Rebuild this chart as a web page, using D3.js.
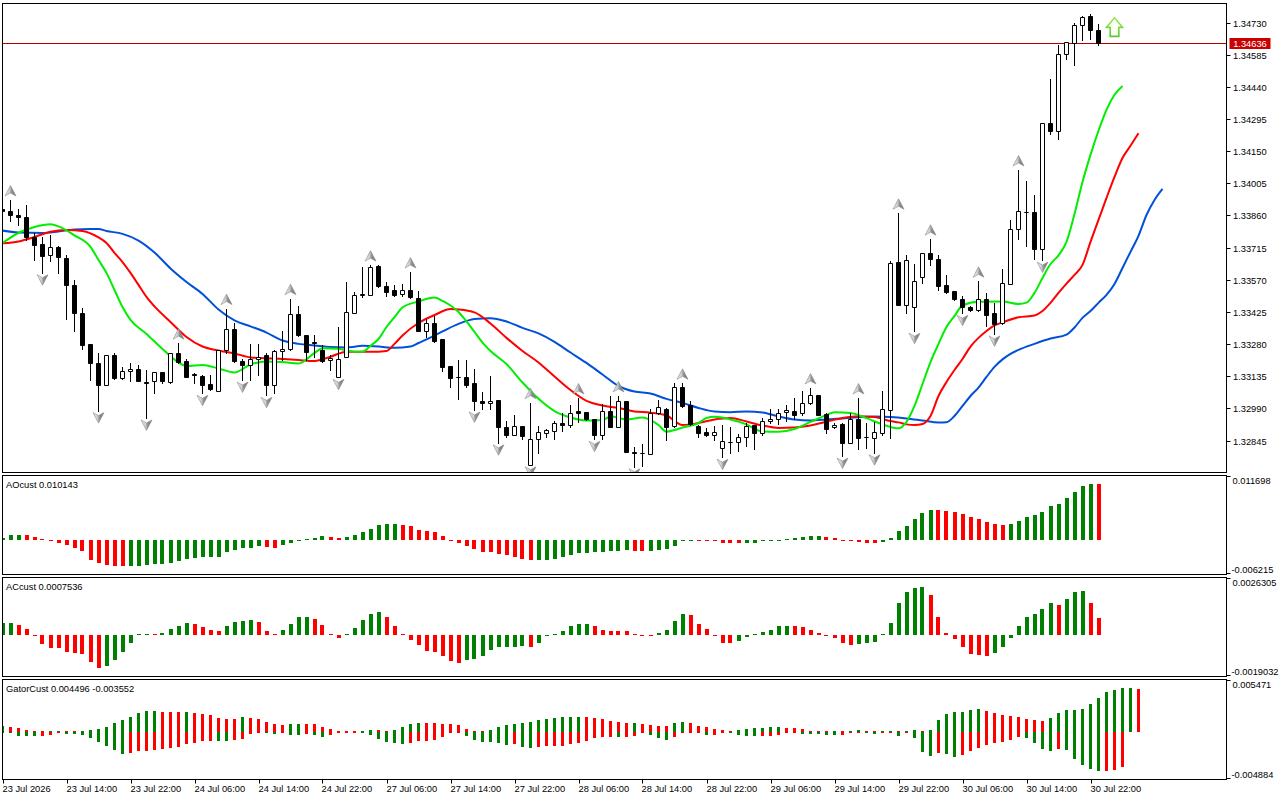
<!DOCTYPE html>
<html><head><meta charset="utf-8">
<script src="https://cdn.jsdelivr.net/npm/d3@7"></script>
<style>
html,body{margin:0;padding:0;background:#fff;}
svg{display:block;}
text{font-family:"Liberation Sans",Arial,sans-serif;font-size:9.3px;fill:#000;}
</style></head>
<body><svg id="chart" width="1280" height="800"></svg>
<script>
// ---------------- DATA ----------------
const opens = [1.33888,1.33879,1.33864,1.33852,1.33762,1.33732,1.33681,1.33717,1.33668,1.33548,
1.33419,1.33281,1.33194,1.33097,1.33232,1.33127,1.33157,1.33167,1.33107,1.33112,
1.33154,1.33109,1.33239,1.33203,1.33143,1.33136,1.33100,1.33070,1.33254,1.33347,
1.33205,1.33185,1.33212,1.33230,1.33094,1.33250,1.33259,1.33416,1.33320,1.33290,
1.33254,1.33208,1.33133,1.33221,1.33422,1.33500,1.33503,1.33632,1.33542,1.33524,
1.33506,1.33524,1.33488,1.33338,1.33377,1.33302,1.33181,1.33132,1.33133,1.33103,
1.33022,1.33013,1.33028,1.32905,1.32872,1.32911,1.32736,1.32851,1.32878,1.32890,
1.32926,1.32914,1.32980,1.32974,1.32941,1.32869,1.32977,1.32908,1.33022,1.32794,
1.32789,1.32785,1.32968,1.32989,1.32911,1.33085,1.33004,1.32911,1.32884,1.32869,
1.32812,1.32839,1.32839,1.32860,1.32914,1.32878,1.32935,1.32941,1.32974,1.32980,
1.32968,1.33013,1.33049,1.32965,1.32905,1.32920,1.32833,1.32941,1.32861,1.32857,
1.32878,1.32983,1.33650,1.33458,1.33449,1.33584,1.33692,1.33663,1.33548,1.33518,
1.33482,1.33446,1.33434,1.33485,1.33419,1.33374,1.33551,1.33801,1.33877,1.33876,
1.33708,1.34276,1.34243,1.34589,1.34639,1.34718,1.34760,1.34697];
const highs = [1.33898,1.33930,1.33888,1.33909,1.33780,1.33762,1.33774,1.33723,1.33681,1.33569,
1.33443,1.33281,1.33239,1.33232,1.33239,1.33178,1.33194,1.33187,1.33163,1.33154,
1.33154,1.33241,1.33284,1.33214,1.33148,1.33139,1.33142,1.33254,1.33440,1.33374,
1.33214,1.33281,1.33281,1.33241,1.33254,1.33341,1.33485,1.33452,1.33320,1.33323,
1.33276,1.33230,1.33356,1.33560,1.33515,1.33627,1.33636,1.33636,1.33560,1.33545,
1.33551,1.33605,1.33518,1.33395,1.33407,1.33302,1.33181,1.33208,1.33208,1.33169,
1.33064,1.33136,1.33028,1.32932,1.32962,1.32911,1.33016,1.32911,1.32899,1.32932,
1.32971,1.33007,1.33037,1.32974,1.32941,1.33010,1.33046,1.33046,1.33025,1.32817,
1.32830,1.32986,1.33028,1.32992,1.33103,1.33103,1.33022,1.32914,1.32902,1.32911,
1.32914,1.32908,1.32875,1.32926,1.32917,1.32947,1.32986,1.32989,1.33007,1.33037,
1.33070,1.33082,1.33052,1.32968,1.32926,1.32926,1.32968,1.33037,1.32923,1.32929,
1.33067,1.33656,1.33870,1.33681,1.33641,1.33692,1.33753,1.33681,1.33590,1.33521,
1.33497,1.33452,1.33563,1.33509,1.33464,1.33618,1.33840,1.34065,1.34014,1.33951,
1.34276,1.34474,1.34628,1.34643,1.34727,1.34760,1.34769,1.34724];
const lows = [1.33871,1.33837,1.33816,1.33750,1.33659,1.33602,1.33654,1.33602,1.33395,1.33341,
1.33259,1.33118,1.32980,1.33094,1.33124,1.33124,1.33112,1.33112,1.32947,1.33061,
1.33103,1.33106,1.33196,1.33133,1.33103,1.33058,1.33073,1.33070,1.33241,1.33199,
1.33118,1.33118,1.33139,1.33049,1.33058,1.33208,1.33254,1.33317,1.33208,1.33223,
1.33199,1.33163,1.33130,1.33221,1.33419,1.33494,1.33503,1.33539,1.33497,1.33497,
1.33497,1.33488,1.33338,1.33311,1.33290,1.33160,1.33088,1.33034,1.33088,1.32983,
1.32986,1.32989,1.32835,1.32860,1.32869,1.32851,1.32736,1.32790,1.32860,1.32851,
1.32890,1.32908,1.32929,1.32938,1.32851,1.32851,1.32905,1.32905,1.32794,1.32727,
1.32730,1.32785,1.32965,1.32848,1.32908,1.32998,1.32917,1.32863,1.32866,1.32848,
1.32770,1.32788,1.32799,1.32821,1.32808,1.32872,1.32926,1.32920,1.32932,1.32941,
1.32959,1.33010,1.32959,1.32878,1.32902,1.32775,1.32833,1.32808,1.32812,1.32790,
1.32869,1.32857,1.33455,1.33422,1.33338,1.33557,1.33636,1.33524,1.33509,1.33479,
1.33419,1.33431,1.33428,1.33362,1.33326,1.33371,1.33551,1.33756,1.33723,1.33665,
1.33659,1.34228,1.34207,1.34567,1.34540,1.34652,1.34655,1.34628];
const closes = [1.33879,1.33861,1.33855,1.33762,1.33728,1.33677,1.33717,1.33672,1.33548,1.33419,
1.33277,1.33194,1.33097,1.33230,1.33127,1.33157,1.33167,1.33115,1.33105,1.33154,
1.33115,1.33239,1.33199,1.33133,1.33141,1.33097,1.33079,1.33254,1.33347,1.33205,
1.33185,1.33214,1.33223,1.33094,1.33250,1.33259,1.33416,1.33320,1.33245,1.33284,
1.33205,1.33217,1.33214,1.33425,1.33500,1.33506,1.33629,1.33542,1.33515,1.33503,
1.33524,1.33491,1.33341,1.33374,1.33295,1.33178,1.33127,1.33130,1.33097,1.33025,
1.33013,1.33022,1.32905,1.32872,1.32911,1.32866,1.32851,1.32884,1.32893,1.32923,
1.32914,1.32971,1.32971,1.32941,1.32869,1.32977,1.32908,1.33022,1.32794,1.32791,
1.32788,1.32968,1.32995,1.32905,1.33085,1.33001,1.32920,1.32881,1.32869,1.32884,
1.32842,1.32837,1.32860,1.32911,1.32878,1.32932,1.32944,1.32968,1.32983,1.32962,
1.33013,1.33049,1.32962,1.32899,1.32917,1.32833,1.32941,1.32857,1.32859,1.32884,
1.32989,1.33645,1.33455,1.33659,1.33563,1.33690,1.33663,1.33542,1.33515,1.33482,
1.33446,1.33434,1.33485,1.33413,1.33371,1.33554,1.33801,1.33879,1.33876,1.33708,
1.34276,1.34243,1.34589,1.34643,1.34721,1.34754,1.34697,1.34636];

// Alligator lines: [bar index, price]
const jaw = [[0,1.33792],[2,1.33783],[5,1.33781],[7,1.33788],[9,1.33797],[11,1.33799],[12,1.33799],[13,1.33790],[15,1.33777],[17,1.33747],[19,1.33693],[21,1.33621],[23,1.33560],[25,1.33506],[27,1.33436],[29,1.33387],[31,1.33360],[33,1.33332],[35,1.33296],[37,1.33281],[39,1.33274],[41,1.33267],[43,1.33265],[45,1.33272],[47,1.33269],[49,1.33263],[51,1.33269],[52,1.33285],[53,1.33301],[55,1.33337],[57,1.33371],[59,1.33393],[61,1.33397],[63,1.33382],[65,1.33353],[67,1.33328],[69,1.33290],[71,1.33242],[73,1.33195],[75,1.33143],[77,1.33091],[79,1.33066],[81,1.33057],[83,1.33033],[85,1.33015],[87,1.32992],[89,1.32976],[91,1.32973],[93,1.32976],[95,1.32972],[97,1.32954],[99,1.32940],[101,1.32936],[103,1.32940],[105,1.32945],[107,1.32950],[109,1.32953],[111,1.32951],[113,1.32945],[115,1.32936],[117,1.32927],[118,1.32928],[119,1.32956],[120,1.33001],[121,1.33046],[122,1.33084],[123,1.33132],[124,1.33177],[125,1.33211],[126,1.33236],[127,1.33254],[129,1.33281],[131,1.33305],[133,1.33323],[134,1.33355],[135,1.33398],[136,1.33429],[137,1.33466],[138,1.33502],[139,1.33551],[140,1.33623],[141,1.33696],[142,1.33768],[143,1.33862],[144,1.33930],[145,1.33980]];
const teeth = [[0,1.33734],[2,1.33743],[4,1.33763],[6,1.33787],[8,1.33795],[10,1.33790],[12,1.33761],[13,1.33736],[14,1.33691],[15,1.33650],[16,1.33601],[17,1.33547],[18,1.33493],[19,1.33450],[21,1.33380],[23,1.33312],[25,1.33269],[27,1.33251],[29,1.33238],[31,1.33220],[34,1.33215],[37,1.33208],[39,1.33204],[41,1.33223],[43,1.33246],[46,1.33245],[48,1.33249],[49,1.33281],[50,1.33319],[52,1.33375],[54,1.33411],[56,1.33438],[57,1.33436],[59,1.33423],[61,1.33373],[63,1.33308],[65,1.33249],[67,1.33197],[69,1.33134],[71,1.33073],[73,1.33024],[75,1.33003],[77,1.32992],[79,1.32976],[81,1.32971],[83,1.32958],[85,1.32915],[87,1.32924],[89,1.32940],[91,1.32947],[93,1.32931],[95,1.32913],[97,1.32902],[99,1.32904],[101,1.32913],[103,1.32930],[105,1.32947],[107,1.32955],[109,1.32951],[111,1.32933],[112,1.32927],[113,1.32918],[114,1.32915],[115,1.32920],[116,1.32956],[117,1.33046],[118,1.33109],[119,1.33163],[120,1.33213],[121,1.33269],[122,1.33308],[123,1.33339],[124,1.33364],[125,1.33378],[127,1.33401],[129,1.33409],[130,1.33429],[131,1.33466],[132,1.33511],[133,1.33553],[134,1.33592],[135,1.33637],[136,1.33741],[137,1.33840],[138,1.33939],[139,1.34034],[140,1.34119],[141,1.34174],[142,1.34231]];
const lips = [[0,1.33736],[2,1.33781],[4,1.33808],[6,1.33820],[7,1.33811],[9,1.33770],[11,1.33718],[12,1.33659],[13,1.33601],[14,1.33524],[15,1.33447],[16,1.33389],[18,1.33326],[20,1.33258],[22,1.33197],[23,1.33181],[25,1.33186],[27,1.33170],[29,1.33152],[31,1.33188],[33,1.33202],[35,1.33199],[37,1.33193],[39,1.33240],[40,1.33261],[42,1.33259],[44,1.33246],[45,1.33246],[46,1.33272],[47,1.33303],[48,1.33357],[49,1.33402],[50,1.33445],[52,1.33472],[54,1.33490],[55,1.33475],[56,1.33454],[57,1.33425],[58,1.33382],[59,1.33335],[60,1.33287],[61,1.33249],[63,1.33190],[65,1.33107],[67,1.33033],[69,1.32978],[71,1.32949],[73,1.32935],[75,1.32938],[76,1.32953],[78,1.32940],[80,1.32949],[82,1.32915],[83,1.32885],[84,1.32893],[85,1.32904],[87,1.32924],[88,1.32947],[89,1.32952],[91,1.32940],[93,1.32918],[95,1.32886],[97,1.32885],[99,1.32897],[101,1.32929],[103,1.32960],[104,1.32973],[106,1.32969],[108,1.32946],[110,1.32918],[112,1.32900],[113,1.32929],[114,1.33001],[115,1.33100],[116,1.33199],[117,1.33281],[118,1.33357],[119,1.33407],[120,1.33454],[122,1.33471],[125,1.33472],[127,1.33461],[128,1.33467],[129,1.33511],[130,1.33578],[131,1.33641],[132,1.33680],[133,1.33741],[134,1.33867],[135,1.34011],[136,1.34133],[137,1.34242],[138,1.34336],[139,1.34404],[140,1.34444]];

const fractalUp = [1,22,28,36,46,51,66,72,77,85,101,107,112,116,122,127];
const fractalDown = [5,12,18,25,30,33,42,59,62,66,74,79,90,105,109,114,120,124,130];
const signalBars = [139];
const signalPrices = [1.34751];

const ao = [0.0003,0.0009,0.00092,0.00085,0.00053,0.00005,-0.0001,-0.0005,-0.0009,-0.0014,
-0.0020,-0.0036,-0.0041,-0.0045,-0.0047,-0.00475,-0.0047,-0.0046,-0.0045,-0.0044,
-0.0043,-0.0042,-0.0038,-0.0034,-0.0032,-0.0031,-0.00305,-0.0030,-0.0022,-0.0018,
-0.0015,-0.0014,-0.0011,-0.0013,-0.00135,-0.0009,-0.0005,-0.0001,0.00002,0.0003,
0.0007,0.0005,0.0004,0.0006,0.0010,0.0015,0.0021,0.0028,0.0029,0.0030,
0.0027,0.0025,0.0019,0.0016,0.0014,0.0007,-0.0001,-0.0006,-0.0010,-0.0016,
-0.0021,-0.0022,-0.0025,-0.0027,-0.0031,-0.0034,-0.0036,-0.00358,-0.00355,-0.0035,
-0.0031,-0.0027,-0.0024,-0.0023,-0.0022,-0.0021,-0.00205,-0.0019,-0.00185,-0.0019,
-0.0020,-0.0019,-0.0018,-0.0016,-0.0011,-0.0002,-0.0001,-0.00012,-0.00015,-0.0002,
-0.0005,-0.00055,-0.0006,-0.00058,-0.0005,-0.0001,-0.00008,-0.00005,0.00000,0.0003,
0.0005,0.0007,0.00075,0.0005,0.0003,-0.00005,-0.0001,-0.0004,-0.00045,-0.0005,
-0.0003,0.0003,0.0016,0.0026,0.0039,0.0050,0.0055,0.0054,0.0052,0.0051,
0.0048,0.0042,0.0038,0.0033,0.0029,0.0027,0.0029,0.0034,0.0041,0.0045,
0.0051,0.0061,0.0066,0.0076,0.0088,0.0098,0.0102,0.010143];
const ac = [0.00053,0.00056,0.00047,0.00026,-0.00006,-0.00041,-0.00059,-0.00061,-0.00079,-0.00083,
-0.00085,-0.00124,-0.00152,-0.00142,-0.00114,-0.00079,-0.00038,0.00003,0.00005,0.00004,
0.00009,0.00026,0.00042,0.00055,0.00050,0.00035,0.00024,0.00017,0.00040,0.00061,
0.00066,0.00067,0.00061,0.00020,0.00003,0.00024,0.00052,0.00082,0.00083,0.00074,
0.00047,0.00006,-0.00015,0.00003,0.00033,0.00070,0.00097,0.00106,0.00080,0.00042,
0.00003,-0.00023,-0.00048,-0.00074,-0.00076,-0.00097,-0.00120,-0.00129,-0.00114,-0.00111,
-0.00095,-0.00068,-0.00056,-0.00055,-0.00053,-0.00052,-0.00053,-0.00038,-0.00005,0.00001,
0.00018,0.00039,0.00050,0.00051,0.00040,0.00021,0.00020,0.00019,0.00017,0.00005,
-0.00002,-0.00003,0.00010,0.00024,0.00065,0.00095,0.00092,0.00052,0.00029,-0.00003,
-0.00035,-0.00038,-0.00029,-0.00010,0.00001,0.00015,0.00024,0.00039,0.00040,0.00039,
0.00035,0.00024,0.00010,-0.00003,-0.00014,-0.00035,-0.00047,-0.00041,-0.00035,-0.00034,
0.00001,0.00056,0.00144,0.00197,0.00217,0.00221,0.00183,0.00080,0.00010,-0.00018,
-0.00056,-0.00089,-0.00094,-0.00095,-0.00083,-0.00056,-0.00014,0.00042,0.00083,0.00098,
0.00117,0.00144,0.00135,0.00165,0.00198,0.00200,0.00144,0.0007536];
const gatorUpper = [0.00062,0.00060,0.00049,0.00028,0.00007,0.00002,0.00006,0.00008,0.00007,0.00006,
0.00017,0.00028,0.00039,0.00060,0.00095,0.00123,0.00155,0.00200,0.00218,0.00219,
0.00208,0.00207,0.00206,0.00209,0.00197,0.00187,0.00175,0.00145,0.00142,0.00138,
0.00155,0.00145,0.00135,0.00102,0.00085,0.00075,0.00082,0.00084,0.00083,0.00082,
0.00060,0.00030,0.00008,0.00007,0.00006,0.00018,0.00028,0.00027,0.00008,0.00028,
0.00060,0.00085,0.00095,0.00094,0.00093,0.00085,0.00084,0.00074,0.00039,0.00018,
0.00005,0.00028,0.00060,0.00074,0.00085,0.00095,0.00102,0.00123,0.00134,0.00144,
0.00155,0.00156,0.00157,0.00155,0.00144,0.00134,0.00113,0.00102,0.00092,0.00093,
0.00091,0.00081,0.00070,0.00069,0.00092,0.00102,0.00101,0.00070,0.00060,0.00039,
0.00028,0.00012,0.00028,0.00039,0.00049,0.00050,0.00051,0.00060,0.00049,0.00048,
0.00039,0.00018,0.00007,0.00002,0.00007,0.00006,0.00018,0.00019,0.00008,0.00001,
0.00010,0.00018,0.00017,0.00018,0.00028,0.00017,0.00028,0.00123,0.00187,0.00208,
0.00209,0.00229,0.00239,0.00218,0.00197,0.00176,0.00165,0.00155,0.00134,0.00123,
0.00122,0.00144,0.00197,0.00229,0.00230,0.00239,0.00292,0.00356,0.00419,0.00440,
0.00461,0.00462,0.004496];
const gatorLower = [-0.00010,-0.00012,-0.00035,-0.00042,-0.00043,-0.00042,-0.00028,-0.00010,-0.00020,-0.00022,
-0.00028,-0.00063,-0.00105,-0.00141,-0.00183,-0.00222,-0.00211,-0.00194,-0.00193,-0.00183,
-0.00169,-0.00160,-0.00148,-0.00123,-0.00113,-0.00088,-0.00085,-0.00088,-0.00090,-0.00080,
-0.00065,-0.00015,-0.00010,-0.00012,-0.00017,-0.00010,-0.00028,-0.00029,-0.00020,-0.00032,
-0.00050,-0.00028,-0.00010,-0.00009,-0.00008,-0.00010,-0.00028,-0.00070,-0.00105,-0.00115,
-0.00116,-0.00106,-0.00088,-0.00087,-0.00078,-0.00053,-0.00010,-0.00009,-0.00035,-0.00077,
-0.00099,-0.00100,-0.00109,-0.00130,-0.00116,-0.00151,-0.00162,-0.00148,-0.00141,-0.00140,
-0.00139,-0.00123,-0.00106,-0.00088,-0.00063,-0.00046,-0.00045,-0.00053,-0.00052,-0.00035,
-0.00010,-0.00025,-0.00063,-0.00077,-0.00053,-0.00010,-0.00009,-0.00008,-0.00025,-0.00024,
-0.00010,-0.00011,-0.00025,-0.00035,-0.00036,-0.00035,-0.00034,-0.00025,-0.00010,-0.00009,
-0.00018,-0.000185,-0.00019,-0.00028,-0.00029,-0.00027,-0.00010,-0.00009,-0.00010,-0.00020,
-0.00010,-0.00009,-0.00035,-0.00010,-0.00063,-0.00200,-0.00246,-0.00211,-0.00222,-0.00257,
-0.00236,-0.00194,-0.00158,-0.00130,-0.00109,-0.00099,-0.00077,-0.00053,-0.00063,-0.00106,
-0.00169,-0.00194,-0.00169,-0.00183,-0.00275,-0.00338,-0.00380,-0.00400,-0.00397,-0.00385,
-0.003552];

const priceTicks = [1.34730,1.34585,1.34440,1.34295,1.34150,1.34005,1.33860,1.33715,1.33570,1.33425,1.33280,1.33135,1.32990,1.32845];
const priceRange = [1.32701, 1.34818];
const aoRange = [-0.006215, 0.011698];
const acRange = [-0.0019032, 0.0026305];
const gatorRange = [-0.004884, 0.005471];
const timeLabelBars = [0,8,16,24,32,40,48,56,64,72,80,88,96,104,112,120,128,136];
const timeLabels = ["23 Jul 2026","23 Jul 14:00","23 Jul 22:00","24 Jul 06:00","24 Jul 14:00","24 Jul 22:00","27 Jul 06:00","27 Jul 14:00","27 Jul 22:00","28 Jul 06:00","28 Jul 14:00","28 Jul 22:00","29 Jul 06:00","29 Jul 14:00","29 Jul 22:00","30 Jul 06:00","30 Jul 14:00","30 Jul 22:00"];

// ---------------- DRAW ----------------
const GREEN = '#008000', RED = '#ff0000';
const svg = d3.select('#chart');
const LEFT = 2.5, RIGHT = 1226.5;
const panes = {
  main: {top: 3.5, bottom: 472.5},
  ao: {top: 475.5, bottom: 574.5},
  ac: {top: 577.5, bottom: 676.5},
  gator: {top: 679.5, bottom: 779.5}
};
const x = d3.scaleLinear().domain([0, 137]).range([2.5, 1098.5]);
const yMain = d3.scaleLinear().domain(priceRange).range([472.5, 3]);
const yAO = d3.scaleLinear().domain(aoRange).range([panes.ao.bottom, panes.ao.top]);
const yAC = d3.scaleLinear().domain(acRange).range([panes.ac.bottom, panes.ac.top]);
const yG = d3.scaleLinear().domain(gatorRange).range([panes.gator.bottom, panes.gator.top]);

const defs = svg.append('defs');
Object.entries(panes).forEach(([k, p]) => {
  defs.append('clipPath').attr('id', 'clip-' + k).append('rect')
    .attr('x', 3).attr('y', p.top + 0.5).attr('width', RIGHT - 3.5).attr('height', p.bottom - p.top - 1);
});
const fg = defs.append('linearGradient').attr('id', 'fg').attr('x1', 0).attr('x2', 1).attr('y1', 0).attr('y2', 0);
fg.append('stop').attr('offset', '0%').attr('stop-color', '#f2f2f2');
fg.append('stop').attr('offset', '48%').attr('stop-color', '#c4c6cc');
fg.append('stop').attr('offset', '52%').attr('stop-color', '#9a9a9a');
fg.append('stop').attr('offset', '100%').attr('stop-color', '#6c6c6c');
const sg = defs.append('linearGradient').attr('id', 'sg').attr('x1', 0).attr('x2', 0).attr('y1', 0).attr('y2', 1);
sg.append('stop').attr('offset', '0%').attr('stop-color', '#9ee860');
sg.append('stop').attr('offset', '100%').attr('stop-color', '#58c82c');

// frames
Object.values(panes).forEach(p => {
  svg.append('rect').attr('x', LEFT).attr('y', p.top).attr('width', RIGHT - LEFT).attr('height', p.bottom - p.top)
    .attr('fill', '#fff').attr('stroke', '#000').attr('stroke-width', 1);
});

// ---- main pane ----
const gMain = svg.append('g').attr('clip-path', 'url(#clip-main)');
const last = closes[closes.length - 1];
const yBid = Math.round(yMain(last)) + 0.5;
gMain.append('line').attr('x1', LEFT).attr('x2', RIGHT).attr('y1', yBid).attr('y2', yBid)
  .attr('stroke', '#b40000').attr('stroke-width', 1);

// alligator
const lineGen = d3.line().x(d => x(d[0])).y(d => yMain(d[1])).curve(d3.curveMonotoneX);
[[jaw, '#0050d8'], [teeth, '#ff0000'], [lips, '#00ee00']].forEach(([data, col]) => {
  gMain.append('path').datum(data).attr('d', lineGen).attr('fill', 'none')
    .attr('stroke', col).attr('stroke-width', 2).attr('stroke-linejoin', 'round');
});

// candles
const idx = d3.range(closes.length);
gMain.selectAll('line.wick').data(idx).join('line').attr('class', 'wick')
  .attr('x1', i => x(i)).attr('x2', i => x(i))
  .attr('y1', i => Math.round(yMain(highs[i]))).attr('y2', i => Math.round(yMain(lows[i])) + 1)
  .attr('stroke', '#000').attr('stroke-width', 1);
gMain.selectAll('path.body').data(idx).join('path').attr('class', 'body')
  .attr('d', i => {
    const yt = Math.round(yMain(Math.max(opens[i], closes[i]))) + 0.5;
    const yb = Math.round(yMain(Math.min(opens[i], closes[i]))) + 0.5;
    const cx = x(i);
    return `M${cx - 2},${yt}H${cx + 2}V${yb}H${cx - 2}Z`;
  })
  .attr('fill', i => closes[i] > opens[i] ? '#fff' : '#000')
  .attr('stroke', '#000').attr('stroke-width', 1);

// fractals
const upShape = 'M0,-5.5L5.5,5L0,2L-5.5,5Z';
const dnShape = 'M0,5.5L5.5,-5L0,-2L-5.5,-5Z';
gMain.selectAll('path.fu').data(fractalUp).join('path').attr('class', 'fu')
  .attr('d', upShape).attr('transform', i => `translate(${x(i)},${yMain(highs[i]) - 9})`)
  .attr('fill', 'url(#fg)').attr('stroke', '#8c8c8c').attr('stroke-width', 0.6);
gMain.selectAll('path.fd').data(fractalDown).join('path').attr('class', 'fd')
  .attr('d', dnShape).attr('transform', i => `translate(${x(i)},${yMain(lows[i]) + 7})`)
  .attr('fill', 'url(#fg)').attr('stroke', '#8c8c8c').attr('stroke-width', 0.6);

// signal arrow (hollow up arrow)
const sigShape = 'M0,0L8,9.5L4.3,9.5L4.3,18.5L-4.3,18.5L-4.3,9.5L-8,9.5Z';
gMain.selectAll('path.sig').data(signalBars).join('path').attr('class', 'sig')
  .attr('d', sigShape).attr('transform', (b, k) => `translate(${x(b)},${yMain(signalPrices[k])})`)
  .attr('fill', '#fbfff6').attr('stroke', 'url(#sg)').attr('stroke-width', 1.6).attr('stroke-linejoin', 'miter');

// price axis
const gAx = svg.append('g');
priceTicks.forEach(v => {
  const yy = Math.round(yMain(v)) + 0.5;
  gAx.append('line').attr('x1', RIGHT).attr('x2', RIGHT + 4).attr('y1', yy).attr('y2', yy).attr('stroke', '#000');
  gAx.append('text').attr('x', RIGHT + 6.5).attr('y', yy + 3.3).text(v.toFixed(5));
});
// bid tag
gAx.append('rect').attr('x', RIGHT + 3).attr('y', yBid - 5.5).attr('width', 41).attr('height', 11).attr('fill', '#c80000');
gAx.append('text').attr('x', RIGHT + 23.5).attr('y', yBid + 3.3).attr('text-anchor', 'middle')
  .style('fill', '#fff').text(last.toFixed(5));

// ---- histograms ----
function colorsFor(vals, useMag) {
  let prev = null, up = true;
  return vals.map((v, i) => {
    const m = useMag ? Math.abs(v) : v;
    if (i > 0) { if (m > prev) up = true; else if (m < prev) up = false; }
    prev = m;
    return up ? GREEN : RED;
  });
}
function drawHist(g, vals, yS, width, cols, offset) {
  const y0 = Math.round(yS(0));
  g.selectAll(null).data(vals).join('rect')
    .attr('x', (v, i) => Math.round(x(i) - offset))
    .attr('width', width)
    .attr('y', v => { const yv = Math.round(yS(v)); return v >= 0 ? Math.min(yv, y0 - 1) : y0; })
    .attr('height', v => Math.max(1, Math.abs(Math.round(yS(v)) - y0)))
    .attr('fill', (v, i) => cols[i]);
}
const gAO = svg.append('g').attr('clip-path', 'url(#clip-ao)');
drawHist(gAO, ao, yAO, 4, colorsFor(ao, false), 2);
const gAC = svg.append('g').attr('clip-path', 'url(#clip-ac)');
drawHist(gAC, ac, yAC, 4, colorsFor(ac, false), 2);
const gG = svg.append('g').attr('clip-path', 'url(#clip-gator)');
drawHist(gG, gatorUpper, yG, 3, colorsFor(gatorUpper, true), 1.5);
drawHist(gG, gatorLower, yG, 3, colorsFor(gatorLower, true), 1.5);

// sub-window labels
svg.append('text').attr('x', 6).attr('y', 487.5).text('AOcust ' + ao[ao.length - 1]);
svg.append('text').attr('x', 6).attr('y', 590).text('ACcust ' + ac[ac.length - 1]);
svg.append('text').attr('x', 6).attr('y', 692).text('GatorCust ' + gatorUpper[gatorUpper.length - 1] + ' ' + gatorLower[gatorLower.length - 1]);

[[aoRange, panes.ao], [acRange, panes.ac], [gatorRange, panes.gator]].forEach(([rng, p]) => {
  const yt = p.top + 1, yb = p.bottom - 1;
  gAx.append('line').attr('x1', RIGHT).attr('x2', RIGHT + 4).attr('y1', yt).attr('y2', yt).attr('stroke', '#000');
  gAx.append('line').attr('x1', RIGHT).attr('x2', RIGHT + 4).attr('y1', yb).attr('y2', yb).attr('stroke', '#000');
  gAx.append('text').attr('x', RIGHT + 6).attr('y', p.top + 8.5).text(String(rng[1]));
  gAx.append('text').attr('x', RIGHT + 5).attr('y', p.bottom - 2).text(String(rng[0]));
});

// time axis
timeLabelBars.forEach((b, k) => {
  const xx = Math.round(x(b)) + 0.5;
  gAx.append('line').attr('x1', xx).attr('x2', xx).attr('y1', panes.gator.bottom).attr('y2', panes.gator.bottom + 4).attr('stroke', '#000');
  gAx.append('text').attr('x', xx - 1).attr('y', 792).text(timeLabels[k]);
});
</script>
</body></html>
